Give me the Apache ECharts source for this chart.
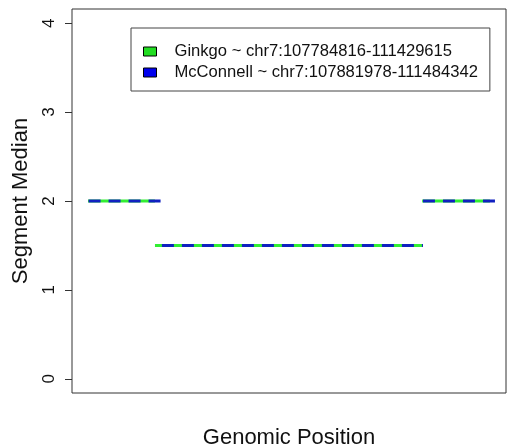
<!DOCTYPE html>
<html>
<head>
<meta charset="utf-8">
<script src="https://cdn.jsdelivr.net/npm/echarts@6/dist/echarts.min.js"></script>
<style>
  html, body { margin: 0; padding: 0; background: #fff; }
  #chart { width: 507px; height: 448px; }
</style>
</head>
<body>
<div id="chart"></div>
<script>
  // segment data (genomic position, segment median)
  const ginkgoStarts = [107784816, 108392000, 110815000]
  const ginkgoEnds = [108392000, 110815000, 111429615]
  const ginkgoMedians = [2, 1.5, 2]

  const mcconnellStarts = [107790000, 108455000, 110822000]
  const mcconnellEnds = [108455000, 110822000, 111484342]
  const mcconnellMedians = [2, 1.5, 2]

  const yTicks = [0, 1, 2, 3, 4]
  const seriesNames = ['Ginkgo ~ chr7:107784816-111429615', 'McConnell ~ chr7:107881978-111484342']

  function toSegments (starts, ends, medians) {
    const out = []
    starts.forEach((s, i) => {
      out.push([s, medians[i]])
      out.push([ends[i], medians[i]])
      out.push([ends[i], null])
    })
    return out
  }

  const chart = echarts.init(document.getElementById('chart'))
  const font = 'Liberation Sans, Arial, Helvetica, sans-serif'

  chart.setOption({
    animation: false,
    textStyle: { fontFamily: font },
    grid: {
      left: 72,
      right: 1,
      top: 9,
      bottom: 55,
      outerBoundsMode: 'none',
      show: true,
      borderColor: '#333',
      borderWidth: 1
    },
    legend: {
      orient: 'vertical',
      left: 131,
      top: 28,
      padding: [15, 12, 10, 12],
      itemGap: 4,
      itemWidth: 13,
      itemHeight: 9,
      borderColor: '#444',
      borderWidth: 1,
      selectedMode: false,
      textStyle: { fontSize: 16.6, lineHeight: 17, color: '#111', padding: [0, 0, 0, 13], fontFamily: font },
      data: [
        { name: seriesNames[0], icon: 'rect', itemStyle: { color: '#22dd22', borderColor: '#000', borderWidth: 1, borderType: 'solid' } },
        { name: seriesNames[1], icon: 'rect', itemStyle: { color: '#0000ee', borderColor: '#000', borderWidth: 1, borderType: 'solid' } }
      ]
    },
    xAxis: {
      type: 'value',
      min: 107639744,
      max: 111575012,
      splitLine: { show: false },
      axisLine: { show: false },
      axisTick: { show: false },
      axisLabel: { show: false },
      name: 'Genomic Position',
      nameLocation: 'middle',
      nameGap: 34,
      nameTextStyle: { fontSize: 22, color: '#111', fontFamily: font }
    },
    yAxis: {
      type: 'value',
      min: -0.16,
      max: 4.16,
      splitLine: { show: false },
      axisLine: { show: false },
      axisTick: {
        show: true,
        length: 7,
        lineStyle: { color: '#333' },
        customValues: yTicks
      },
      axisLabel: {
        rotate: 90,
        margin: 14,
        fontSize: 17,
        color: '#111',
        customValues: yTicks
      },
      name: 'Segment Median',
      nameLocation: 'middle',
      nameRotate: 90,
      nameGap: 40,
      nameTextStyle: { fontSize: 22, color: '#111', fontFamily: font }
    },
    series: [
      {
        name: seriesNames[0],
        type: 'line',
        showSymbol: false,
        connectNulls: false,
        itemStyle: { color: '#33ee33' },
        lineStyle: { color: '#33ee33', width: 3 },
        data: toSegments(ginkgoStarts, ginkgoEnds, ginkgoMedians)
      },
      {
        name: seriesNames[1],
        type: 'line',
        showSymbol: false,
        connectNulls: false,
        itemStyle: { color: '#1020c0' },
        lineStyle: { color: '#1020c0', width: 3, type: [12, 8] },
        data: toSegments(mcconnellStarts, mcconnellEnds, mcconnellMedians)
      }
    ]
  })
</script>
</body>
</html>
